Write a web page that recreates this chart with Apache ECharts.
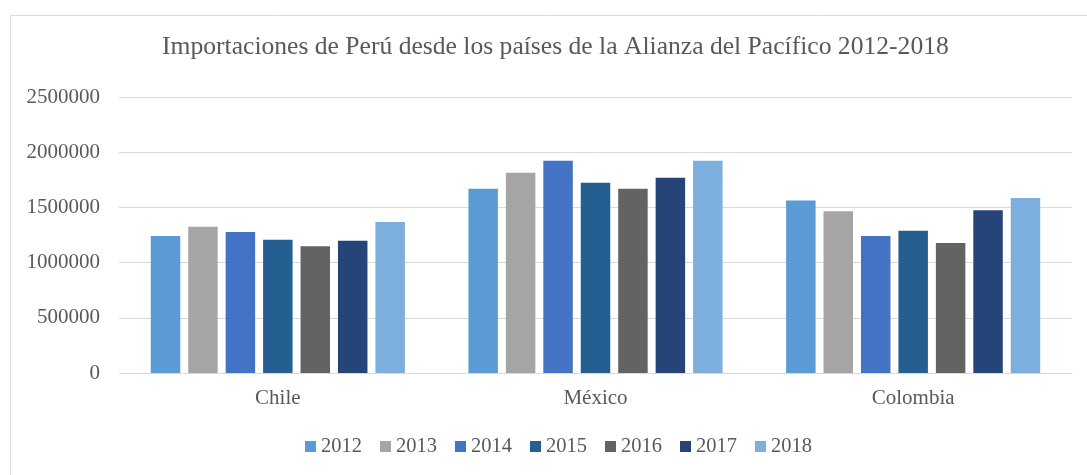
<!DOCTYPE html>
<html><head><meta charset="utf-8">
<script src="https://cdn.jsdelivr.net/npm/echarts@6/dist/echarts.min.js"></script>
<style>html,body{margin:0;padding:0;background:#fff}#c{width:1087px;height:475px}</style>
</head><body><div id="c"></div>
<script>
const categories = ['Chile', 'México', 'Colombia'];
const years = ['2012', '2013', '2014', '2015', '2016', '2017', '2018'];
const v2012 = [1240000, 1670000, 1562000];
const v2013 = [1324000, 1814000, 1466000];
const v2014 = [1277000, 1922000, 1240000];
const v2015 = [1207000, 1724000, 1288000];
const v2016 = [1148000, 1670000, 1177000];
const v2017 = [1198000, 1769000, 1475000];
const v2018 = [1367000, 1922000, 1586000];
const yTicks = [0, 500000, 1000000, 1500000, 2000000, 2500000];
const colors = ['#5B9BD5', '#A5A5A5', '#4472C4', '#255E91', '#636363', '#264478', '#7CAFDD'];
const seriesValues = [v2012, v2013, v2014, v2015, v2016, v2017, v2018];
const font = '"Liberation Serif", "Times New Roman", serif';

const chart = echarts.init(document.getElementById('c'), null, {renderer: 'canvas'});
chart.setOption({
  animation: false,
  color: colors,
  title: {
    text: 'Importaciones de Perú desde los países de la Alianza del Pacífico 2012-2018',
    left: 162, top: 34, padding: 0,
    textStyle: {fontFamily: font, fontSize: 25.6, fontWeight: 'normal', color: '#595959'}
  },
  graphic: [{
    type: 'rect', left: 8, top: 13, silent: true,
    shape: {width: 1200, height: 600},
    style: {fill: 'none', stroke: '#D9D9D9', lineWidth: 1}
  }],
  legend: {
    top: 436, left: 305, padding: 0,
    itemWidth: 11, itemHeight: 11, itemGap: 18,
    icon: 'rect',
    textStyle: {fontFamily: font, fontSize: 20.5, color: '#595959', padding: [0, 0, 0, 0]},
    data: years
  },
  grid: {left: 119, right: 15, top: 97, bottom: 102, containLabel: false},
  xAxis: {
    type: 'category', data: categories,
    axisLine: {lineStyle: {color: '#D9D9D9', width: 1}},
    axisTick: {show: false},
    axisLabel: {fontFamily: font, fontSize: 21, color: '#595959', margin: 15}
  },
  yAxis: {
    type: 'value', min: yTicks[0], max: yTicks[yTicks.length - 1], interval: yTicks[1] - yTicks[0],
    axisLine: {show: false}, axisTick: {show: false},
    splitLine: {lineStyle: {color: '#D9D9D9', width: 1}},
    axisLabel: {fontFamily: font, fontSize: 21, color: '#595959', margin: 19,
      formatter: v => String(v)}
  },
  series: years.map((y, i) => ({
    name: y, type: 'bar', data: seriesValues[i],
    barGap: '27%', barCategoryGap: '20%',
    itemStyle: {color: colors[i]}
  }))
});
</script></body></html>
